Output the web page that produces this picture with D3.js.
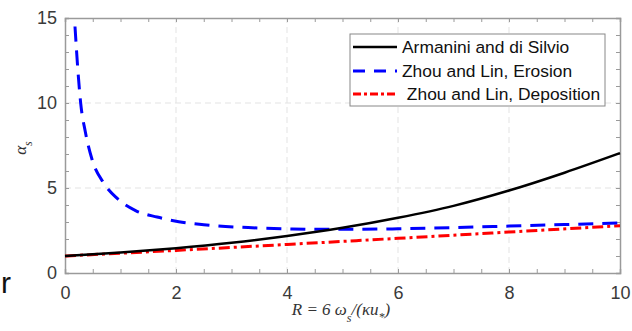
<!DOCTYPE html>
<html>
<head>
<meta charset="utf-8">
<script src="https://cdn.jsdelivr.net/npm/d3@7"></script>
<style>
  body { margin: 0; background: #fff; }
  svg { display: block; }
  .tick text { font-family: "Liberation Sans", Arial, sans-serif; fill: #3a3a3a; }
</style>
</head>
<body>
<svg width="632" height="331"></svg>
<script>
// Values.
const armR = [0, 1, 2, 3, 4, 5, 6, 7, 8, 9, 10];
const armAlpha = [1.0, 1.2, 1.46, 1.78, 2.18, 2.66, 3.25, 3.95, 4.85, 5.9, 7.05];

const eroR = [0.18, 0.234, 0.283, 0.366, 0.49, 0.69, 0.94, 1.28, 1.66, 2.05, 2.5, 3.3, 4.0, 4.5, 5.2, 6.0, 7.0, 8.0, 9.0, 10.0];
const eroAlpha = [14.5, 11.85, 9.98, 8.31, 6.65, 5.33, 4.39, 3.66, 3.29, 3.02, 2.84, 2.67, 2.6, 2.57, 2.57, 2.6, 2.67, 2.76, 2.85, 2.95];

const depR = [0, 2, 4, 6, 8, 10];
const depAlpha = [1.0, 1.33, 1.68, 2.04, 2.41, 2.78];

const legendLabels = ["Armanini and di Silvio", "Zhou and Lin, Erosion", " Zhou and Lin, Deposition"];
const xTicks = [0, 2, 4, 6, 8, 10];
const yTicks = [0, 5, 10, 15];

const svg = d3.select("svg");
const margin = {left: 65, right: 12, top: 18, bottom: 58};
const width = 632, height = 331;

const x = d3.scaleLinear().domain([0, 10]).range([margin.left, width - margin.right]);
const y = d3.scaleLinear().domain([0, 15]).range([height - margin.bottom, margin.top]);

const x0 = x.range()[0], x1 = x.range()[1];
const y0 = y.range()[0], y1 = y.range()[1];

// Grid lines (dashed, light).
svg.append("g").selectAll("line").data(xTicks.slice(1, -1)).join("line")
  .attr("x1", d => x(d)).attr("x2", d => x(d))
  .attr("y1", y0).attr("y2", y1)
  .attr("stroke", "#e3e3e3").attr("stroke-dasharray", "6,4");
svg.append("g").selectAll("line").data(yTicks.slice(1, -1)).join("line")
  .attr("y1", d => y(d)).attr("y2", d => y(d))
  .attr("x1", x0).attr("x2", x1)
  .attr("stroke", "#e3e3e3").attr("stroke-dasharray", "6,4");

// Axes with inward ticks.
const xMinor = d3.range(0, 10.01, 0.5);
const yMinor = d3.range(0, 15.01, 1);

const xAxis = svg.append("g").attr("transform", `translate(0,${y0})`)
  .call(d3.axisBottom(x).tickValues(xMinor).tickSize(-4).tickPadding(10)
    .tickFormat(d => xTicks.includes(d) ? d : ""));
const yAxis = svg.append("g").attr("transform", `translate(${x0},0)`)
  .call(d3.axisLeft(y).tickValues(yMinor).tickSize(-4).tickPadding(8)
    .tickFormat(d => yTicks.includes(d) ? d : ""));
const xTop = svg.append("g").attr("transform", `translate(0,${y1})`)
  .call(d3.axisTop(x).tickValues(xMinor).tickSize(-4).tickFormat(""));
const yRight = svg.append("g").attr("transform", `translate(${x1},0)`)
  .call(d3.axisRight(y).tickValues(yMinor).tickSize(-4).tickFormat(""));

[xAxis, yAxis, xTop, yRight].forEach(g => {
  g.select(".domain").attr("stroke", "#9a9a9a").attr("stroke-width", 1.5);
  g.selectAll(".tick line").attr("stroke", "#9a9a9a");
  g.selectAll(".tick text").attr("font-size", 18);
});
xAxis.selectAll(".tick text").attr("dy", "0.9em");

// Curves.
const line = d3.line().x(d => x(d[0])).y(d => y(d[1])).curve(d3.curveMonotoneX);
const plot = svg.append("g");

plot.append("path").datum(d3.zip(depR, depAlpha)).attr("d", line)
  .attr("fill", "none").attr("stroke", "#ff0000").attr("stroke-width", 3)
  .attr("stroke-dasharray", "11,4,3,4");
plot.append("path").datum(d3.zip(eroR, eroAlpha)).attr("d", line)
  .attr("fill", "none").attr("stroke", "#0000ff").attr("stroke-width", 3)
  .attr("stroke-dasharray", "15,9");
plot.append("path").datum(d3.zip(armR, armAlpha)).attr("d", line)
  .attr("fill", "none").attr("stroke", "#000").attr("stroke-width", 2.5);

// Legend.
const legend = svg.append("g");
legend.append("rect")
  .attr("x", 350).attr("y", 34).attr("width", 255).attr("height", 72)
  .attr("fill", "#fff").attr("stroke", "#888").attr("stroke-width", 1);

const legStyles = [
  {color: "#000", dash: null, w: 2.5},
  {color: "#0000ff", dash: "12,9", w: 3},
  {color: "#ff0000", dash: "8,3,3,3", w: 3}
];
const legY = [47, 71, 94];
legendLabels.forEach((lab, i) => {
  legend.append("line")
    .attr("x1", 353).attr("x2", 397).attr("y1", legY[i]).attr("y2", legY[i])
    .attr("stroke", legStyles[i].color).attr("stroke-width", legStyles[i].w)
    .attr("stroke-dasharray", legStyles[i].dash);
  legend.append("text")
    .attr("x", 402).attr("y", legY[i]).attr("dy", "0.36em")
    .attr("font-family", "Liberation Sans, Arial, sans-serif")
    .attr("font-size", 17.4).attr("fill", "#111")
    .attr("xml:space", "preserve")
    .text(lab);
});

// Axis labels (italic serif, math style).
const xl = svg.append("text")
  .attr("x", 341).attr("y", 315).attr("text-anchor", "middle")
  .attr("font-family", "Liberation Serif, Times New Roman, serif")
  .attr("font-style", "italic").attr("font-size", 17).attr("fill", "#333");
xl.append("tspan").text("R = 6 ω");
xl.append("tspan").attr("dy", 7).attr("font-size", 12).text("s");
xl.append("tspan").attr("dy", -7).text("/(κu");
xl.append("tspan").attr("dy", 6).attr("font-size", 12).text("*");
xl.append("tspan").attr("dy", -6).text(")");

const yl = svg.append("text")
  .attr("transform", "translate(26,148) rotate(-90)")
  .attr("text-anchor", "middle")
  .attr("font-family", "Liberation Serif, Times New Roman, serif")
  .attr("font-style", "italic").attr("font-size", 17).attr("fill", "#333");
yl.append("tspan").text("α");
yl.append("tspan").attr("dy", 6).attr("font-size", 12).text("s");

// Stray letter at the lower left of the figure.
svg.append("text")
  .attr("x", 1).attr("y", 293)
  .attr("font-family", "Liberation Sans, Arial, sans-serif")
  .attr("font-size", 30).attr("fill", "#111")
  .text("r");
</script>
</body>
</html>
